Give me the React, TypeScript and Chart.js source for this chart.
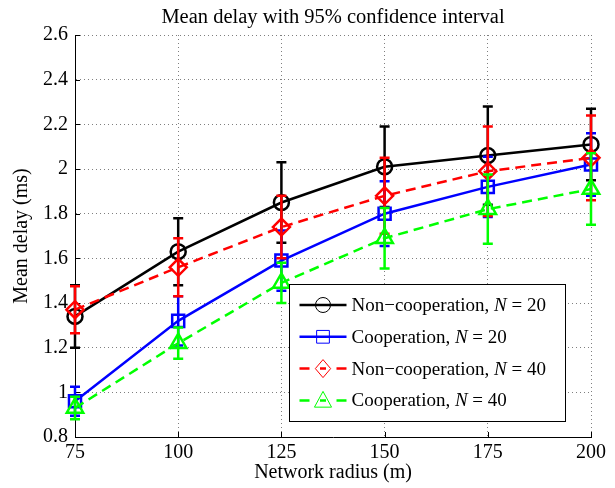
import React, { useEffect, useRef } from 'react';
import { Chart, registerables } from 'chart.js';

Chart.register(...registerables);

const chartTitle = 'Mean delay with 95% confidence interval';
const xAxisTitle = 'Network radius (m)';
const yAxisTitle = 'Mean delay (ms)';

const radius = [75, 100, 125, 150, 175, 200];

const nonCoop20 = [1.34, 1.63, 1.85, 2.01, 2.06, 2.11];
const nonCoop20Err = [0.14, 0.15, 0.18, 0.18, 0.22, 0.16];
const coop20 = [0.96, 1.32, 1.59, 1.8, 1.92, 2.02];
const coop20Err = [0.065, 0.11, 0.135, 0.145, 0.135, 0.14];
const nonCoop40 = [1.37, 1.56, 1.74, 1.88, 1.99, 2.05];
const nonCoop40Err = [0.105, 0.13, 0.14, 0.17, 0.2, 0.19];
const coop40 = [0.93, 1.22, 1.49, 1.69, 1.82, 1.91];
const coop40Err = [0.05, 0.07, 0.09, 0.135, 0.155, 0.16];

const seriesNames = ['Non\u2212cooperation', 'Cooperation', 'Non\u2212cooperation', 'Cooperation'];
const nodeCounts = [20, 20, 40, 40];

const xMin = 75, xMax = 200, xStep = 25;
const yMin = 0.8, yMax = 2.6, yStep = 0.2;

const FONT = "'Liberation Serif', 'Times New Roman', serif";

type Marker = 'circle' | 'rect' | 'rectRot' | 'triangle';

function drawMarker(ctx: CanvasRenderingContext2D, style: Marker, x: number, y: number, r: number) {
  ctx.beginPath();
  if (style === 'circle') {
    ctx.arc(x, y, r, 0, Math.PI * 2);
  } else if (style === 'rect') {
    const s = r * Math.SQRT1_2;
    ctx.rect(x - s, y - s, 2 * s, 2 * s);
  } else if (style === 'rectRot') {
    ctx.moveTo(x, y - r);
    ctx.lineTo(x + r * 0.85, y);
    ctx.lineTo(x, y + r);
    ctx.lineTo(x - r * 0.85, y);
    ctx.closePath();
  } else {
    ctx.moveTo(x, y - r);
    ctx.lineTo(x + r * 0.95, y + r * 0.75);
    ctx.lineTo(x - r * 0.95, y + r * 0.75);
    ctx.closePath();
  }
  ctx.stroke();
}

const errorBarPlugin = {
  id: 'errorBars',
  afterDatasetDraw(chart: any, args: any) {
    const ds: any = chart.data.datasets[args.index];
    const errs: number[] | undefined = ds.errors;
    if (!errs) return;
    const ys = chart.scales.y;
    const ctx: CanvasRenderingContext2D = chart.ctx;
    ctx.save();
    ctx.strokeStyle = ds.borderColor;
    ctx.lineWidth = 2.5;
    ctx.setLineDash([]);
    args.meta.data.forEach((pt: any, i: number) => {
      const v = ds.data[i].y;
      const e = errs[i];
      const x = pt.x;
      const y1 = ys.getPixelForValue(v + e);
      const y2 = ys.getPixelForValue(v - e);
      ctx.beginPath();
      ctx.moveTo(x, y1);
      ctx.lineTo(x, y2);
      ctx.moveTo(x - 5, y1);
      ctx.lineTo(x + 5, y1);
      ctx.moveTo(x - 5, y2);
      ctx.lineTo(x + 5, y2);
      ctx.stroke();
    });
    ctx.restore();
  },
};

const decorPlugin = {
  id: 'decor',
  beforeDatasetsDraw(chart: any) {
    const ctx: CanvasRenderingContext2D = chart.ctx;
    const { left, bottom } = chart.chartArea;
    ctx.save();
    ctx.strokeStyle = '#000';
    ctx.lineWidth = 1;
    chart.scales.y.ticks.forEach((t: any) => {
      const y = Math.round(chart.scales.y.getPixelForValue(t.value)) + 0.5;
      ctx.beginPath();
      ctx.moveTo(left, y);
      ctx.lineTo(left + 5, y);
      ctx.stroke();
    });
    chart.scales.x.ticks.forEach((t: any) => {
      const x = Math.round(chart.scales.x.getPixelForValue(t.value)) + 0.5;
      ctx.beginPath();
      ctx.moveTo(x, bottom);
      ctx.lineTo(x, bottom - 5);
      ctx.stroke();
    });
    ctx.restore();
  },
  afterDraw(chart: any) {
    const ctx: CanvasRenderingContext2D = chart.ctx;
    const area = chart.chartArea;
    ctx.save();
    // title
    ctx.fillStyle = '#000';
    ctx.font = `20.5px ${FONT}`;
    ctx.textAlign = 'center';
    ctx.textBaseline = 'middle';
    ctx.fillText(chartTitle, (area.left + area.right) / 2, 18);

    // legend
    const bw = 276, bh = 137;
    const bx = Math.round(area.right - 26 - bw) + 0.5;
    const by = Math.round(area.bottom - 16 - bh) + 0.5;
    ctx.fillStyle = '#fff';
    ctx.fillRect(bx, by, bw, bh);
    ctx.strokeStyle = '#000';
    ctx.lineWidth = 1;
    ctx.strokeRect(bx, by, bw, bh);
    const dss = chart.data.datasets;
    dss.forEach((ds: any, i: number) => {
      const cy = by + 20.5 + i * 31.8;
      const x0 = bx + 10, x1 = bx + 57, xm = (x0 + x1) / 2;
      ctx.strokeStyle = ds.borderColor;
      ctx.lineWidth = 2.5;
      ctx.setLineDash([]);
      ctx.beginPath();
      if (ds.borderDash && ds.borderDash.length) {
        ctx.moveTo(x0, cy); ctx.lineTo(x0 + 10, cy);
        ctx.moveTo(x1 - 10, cy); ctx.lineTo(x1, cy);
        ctx.moveTo(xm - 3, cy); ctx.lineTo(xm + 3, cy);
      } else {
        ctx.moveTo(x0, cy); ctx.lineTo(x1, cy);
      }
      ctx.stroke();
      ctx.lineWidth = 1;
      drawMarker(ctx, ds.pointStyle, xm, cy, ds.pointStyle === 'circle' ? 7.5 : 9);
      // text
      ctx.fillStyle = '#000';
      ctx.textAlign = 'left';
      ctx.textBaseline = 'middle';
      let tx = bx + 62;
      const p1 = `${seriesNames[i]}, `;
      ctx.font = `19px ${FONT}`;
      ctx.fillText(p1, tx, cy + 1);
      tx += ctx.measureText(p1).width;
      ctx.font = `italic 19px ${FONT}`;
      ctx.fillText('N', tx, cy + 1);
      tx += ctx.measureText('N').width;
      ctx.font = `19px ${FONT}`;
      ctx.fillText(` = ${nodeCounts[i]}`, tx, cy + 1);
    });
    ctx.restore();
  },
};

function pts(ys: number[]) {
  return radius.map((x, i) => ({ x, y: ys[i] }));
}

export default function App() {
  const ref = useRef<HTMLCanvasElement>(null);
  useEffect(() => {
    if (!ref.current) return;
    Chart.defaults.font.family = FONT;
    const common = {
      fill: false,
      borderWidth: 2.5,
      pointBorderWidth: 2.5,
      pointBackgroundColor: 'rgba(0,0,0,0)',
      clip: false as any,
      tension: 0,
    };
    const chart = new Chart(ref.current, {
      type: 'line',
      data: {
        datasets: [
          { ...common, label: 'nc20', data: pts(nonCoop20), errors: nonCoop20Err, borderColor: '#000000', pointBorderColor: '#000000', pointStyle: 'circle', pointRadius: 7.5, order: 4 } as any,
          { ...common, label: 'c20', data: pts(coop20), errors: coop20Err, borderColor: '#0000ff', pointBorderColor: '#0000ff', pointStyle: 'rect', pointRadius: 8.5, order: 3 } as any,
          { ...common, label: 'nc40', data: pts(nonCoop40), errors: nonCoop40Err, borderColor: '#ff0000', pointBorderColor: '#ff0000', pointStyle: 'rectRot', pointRadius: 8.5, borderDash: [10, 6], order: 2 } as any,
          { ...common, label: 'c40', data: pts(coop40), errors: coop40Err, borderColor: '#00ff00', pointBorderColor: '#00ff00', pointStyle: 'triangle', pointRadius: 9.5, borderDash: [10, 6], order: 1 } as any,
        ],
      },
      options: {
        responsive: false,
        animation: false,
        layout: { padding: { top: 35, right: 24, left: 0, bottom: 0 } },
        plugins: {
          legend: { display: false },
          title: { display: false },
          tooltip: { enabled: false },
        },
        scales: {
          x: {
            type: 'linear',
            min: xMin,
            max: xMax,
            afterFit: (s: any) => { s.height = 51; },
            ticks: { stepSize: xStep, color: '#000', font: { size: 20, family: FONT }, padding: 4, maxRotation: 0 },
            grid: { color: 'rgba(0,0,0,0.5)', lineWidth: 1, drawTicks: false },
            border: { display: true, color: '#000', width: 1, dash: [1, 3] },
            title: { display: true, text: xAxisTitle, color: '#000', font: { size: 20, family: FONT }, padding: { top: 0, bottom: 3 } },
          },
          y: {
            type: 'linear',
            min: yMin,
            max: yMax,
            afterFit: (s: any) => { s.width = 75; },
            ticks: {
              stepSize: yStep,
              color: '#000',
              font: { size: 20, family: FONT },
              padding: 7,
              callback: (v: any) => String(Math.round(Number(v) * 10) / 10),
            },
            grid: { color: 'rgba(0,0,0,0.5)', lineWidth: 1, drawTicks: false },
            border: { display: true, color: '#000', width: 1, dash: [1, 3] },
            title: { display: true, text: yAxisTitle, color: '#000', font: { size: 20, family: FONT }, padding: { top: 10, bottom: 0 } },
          },
        },
      } as any,
      plugins: [errorBarPlugin, decorPlugin],
    });
    return () => chart.destroy();
  }, []);
  return (
    <div style={{ position: 'fixed', left: 0, top: 0, width: 615, height: 488, background: '#fff' }}>
      <canvas ref={ref} width={615} height={488} />
    </div>
  );
}
